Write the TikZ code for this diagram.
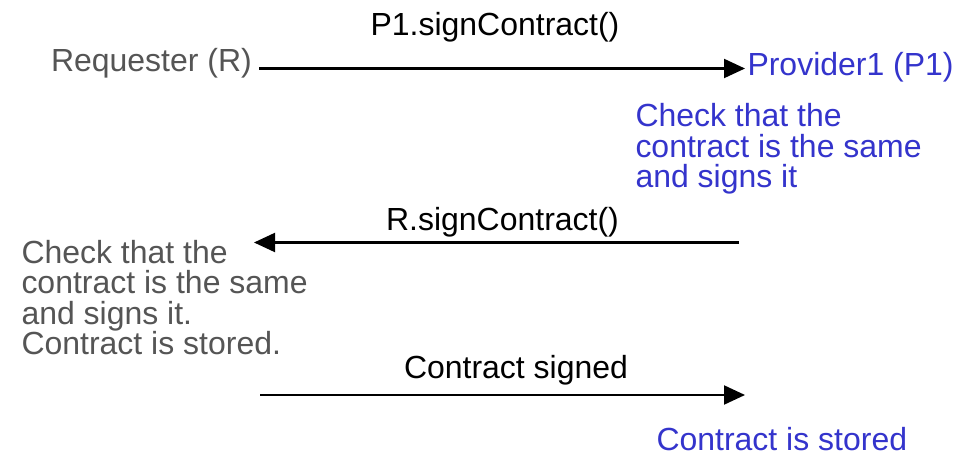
\documentclass[tikz,border=0pt]{standalone}
\usepackage{fontspec}
\setmainfont{Liberation Sans}
\usetikzlibrary{arrows.meta}
\definecolor{reqgrey}{RGB}{85,85,85}
\definecolor{provblue}{RGB}{52,52,204}
% left-aligned lines, baseline at the first line, fixed line pitch
\newcommand{\linesblock}[1]{\vtop{\baselineskip=30.5bp\lineskiplimit=-100pt\lineskip=0pt
  \halign{##\hfil\cr#1\crcr}}}
\begin{document}
\begin{tikzpicture}[x=1bp,y=-1bp,
  lbl/.style={inner sep=0pt,outer sep=0pt,font=\fontsize{32.1pt}{30.6pt}\selectfont},
  msg/.style={draw=black,line width=2.1bp,-{Triangle[length=21bp,width=19bp]}},
  reqtext/.style={lbl,text=reqgrey},
  provtext/.style={lbl,text=provblue},
  calltext/.style={lbl,text=black,anchor=base}]
  \useasboundingbox[fill=white] (0,0) rectangle (975,455);

  % parties
  \node[reqtext,anchor=base west] (req) at (51,71.5) {Requester (R)};
  \node[provtext,anchor=base west] (prov) at (747.5,76) {Provider1 (P1)};

  % first call: R -> P1
  \node[calltext] (call1) at (495,36) {P1.signContract()};
  \coordinate (m1s) at (259,68.5);
  \coordinate (m1e) at (745,68.5);
  \draw[msg] (m1s) -- (m1e);

  % provider check
  \node[provtext,anchor=base west] (pchk) at (635.5,127)
    {\linesblock{Check that the\cr contract is the same\cr and signs it}};

  % second call: P1 -> R
  \node[calltext] (call2) at (502.5,231) {R.signContract()};
  \coordinate (m2s) at (739,242.5);
  \coordinate (m2e) at (254,242.5);
  \draw[msg] (m2s) -- (m2e);

  % requester check
  \node[reqtext,anchor=base west] (rchk) at (21.5,263.5)
    {\linesblock{Check that the\cr contract is the same\cr and signs it.\cr Contract is stored.}};

  % confirmation: R -> P1
  \node[calltext] (call3) at (516,379) {Contract signed};
  \coordinate (m3s) at (260,395);
  \coordinate (m3e) at (745,395);
  \draw[msg] (m3s) -- (m3e);

  \node[provtext,anchor=base west] (stored) at (656.5,450) {Contract is stored};
\end{tikzpicture}
\end{document}
